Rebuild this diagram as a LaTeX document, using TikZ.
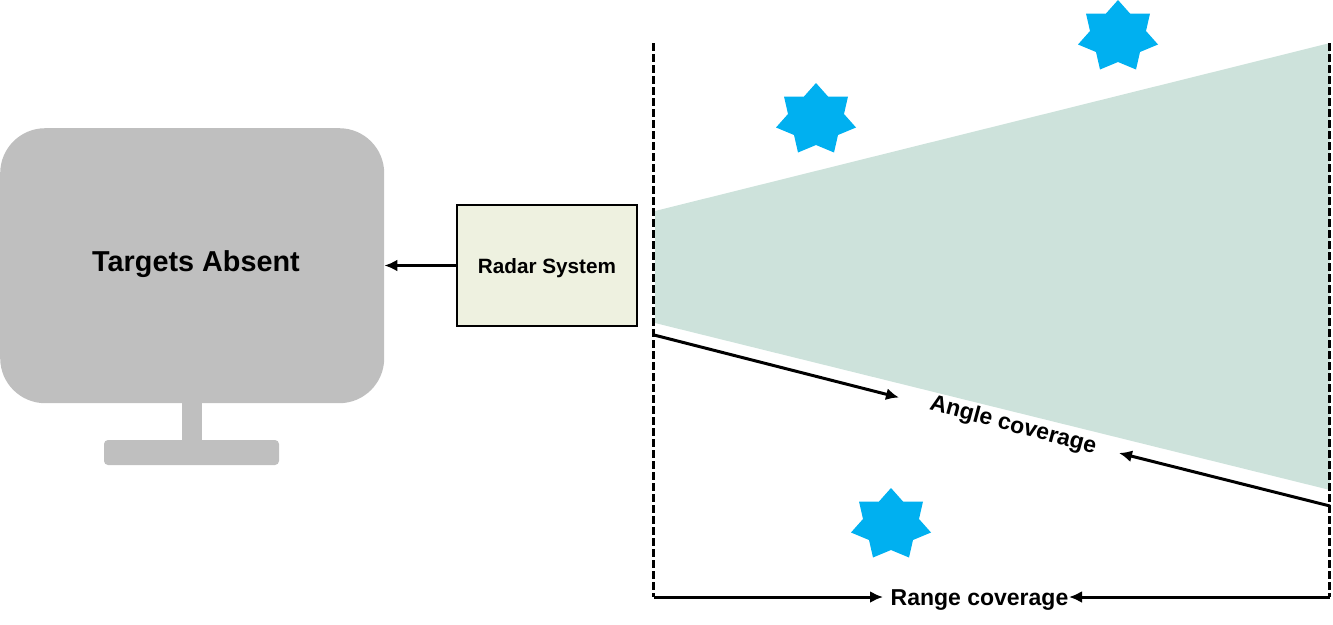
\documentclass[tikz,border=0pt]{standalone}
\usepackage{fontspec}
\setmainfont{Liberation Sans}
\usetikzlibrary{arrows.meta}
\definecolor{mongray}{HTML}{BFBFBF}
\definecolor{wedgegreen}{HTML}{CDE2DB}
\definecolor{boxgreen}{HTML}{EEF1E0}
\definecolor{starblue}{HTML}{00B0F0}
\tikzset{
  x=1pt,y=-1pt,
  conn/.style={line width=3pt,-{Latex[length=13pt,width=12pt]}},
  boundary/.style={line width=3pt,dash pattern=on 8pt off 3pt},
  lbl/.style={font=\bfseries,inner sep=0pt,text=black},
  starshape/.pic={\fill[starblue] (0,-37) -- (12,-23.5) -- (32,-23.5) -- (28,-6) -- (40,7.5) -- (22,15) -- (18,32.5) -- (0,25) -- (-18,32.5) -- (-22,15) -- (-40,7.5) -- (-28,-6) -- (-32,-23.5) -- (-12,-23.5) -- cycle;}
}
\begin{document}
\begin{tikzpicture}
\useasboundingbox (0,0) rectangle (1333,624);
% monitor
\fill[mongray] (182,395) rectangle (202,445);
\fill[mongray,rounded corners=4pt] (104,440) rectangle (279,465);
\node[fill=mongray,rounded corners=45pt,minimum width=384pt,minimum height=275pt,inner sep=0pt,anchor=north west] (monitor) at (0,128) {};
\node[lbl,font=\bfseries\fontsize{28.8}{33}\selectfont] (absent) at (196,264) {Targets Absent};
% radar box
\node[draw=black,fill=boxgreen,line width=2pt,minimum width=179.5pt,minimum height=120.5pt,inner sep=0pt] (radar) at (547,265.5) {};
\node[lbl,font=\bfseries\fontsize{20.7}{24}\selectfont] (radartext) at (547,268) {Radar System};
\draw[conn] (radar.west) -- (radar.west -| monitor.east);
% wedge
\fill[wedgegreen] (655,211) -- (1330,43) -- (1330,490) -- (655,323) -- cycle;
% boundaries
\coordinate (lt) at (653.5,43);
\coordinate (lb) at (653.5,597);
\coordinate (rt) at (1329.5,43);
\coordinate (rb) at (1329.5,597);
\draw[boundary] (lt) -- (lb);
\draw[boundary] (rt) -- (rb);
% stars
\pic at (816,120) {starshape};
\pic at (1118,37) {starshape};
\pic at (891,525) {starshape};
% angle coverage
\node[lbl,rotate=-15,font=\bfseries\fontsize{23}{27}\selectfont] (angle) at (1013,426) {Angle coverage};
\coordinate (al) at (654,335);
\coordinate (ar) at (1330,506);
\coordinate (alend) at (899,397.5);
\coordinate (arend) at (1119,453);
\draw[conn] (al) -- (alend);
\draw[conn] (ar) -- (arend);
% range coverage
\node[lbl,font=\bfseries\fontsize{23}{27}\selectfont] (range) at (979.5,600) {Range coverage};
\coordinate (rangel) at (883,597);
\coordinate (ranger) at (1069,597);
\draw[conn] (lb) -- (rangel);
\draw[conn] (rb) -- (ranger);
\end{tikzpicture}
\end{document}
